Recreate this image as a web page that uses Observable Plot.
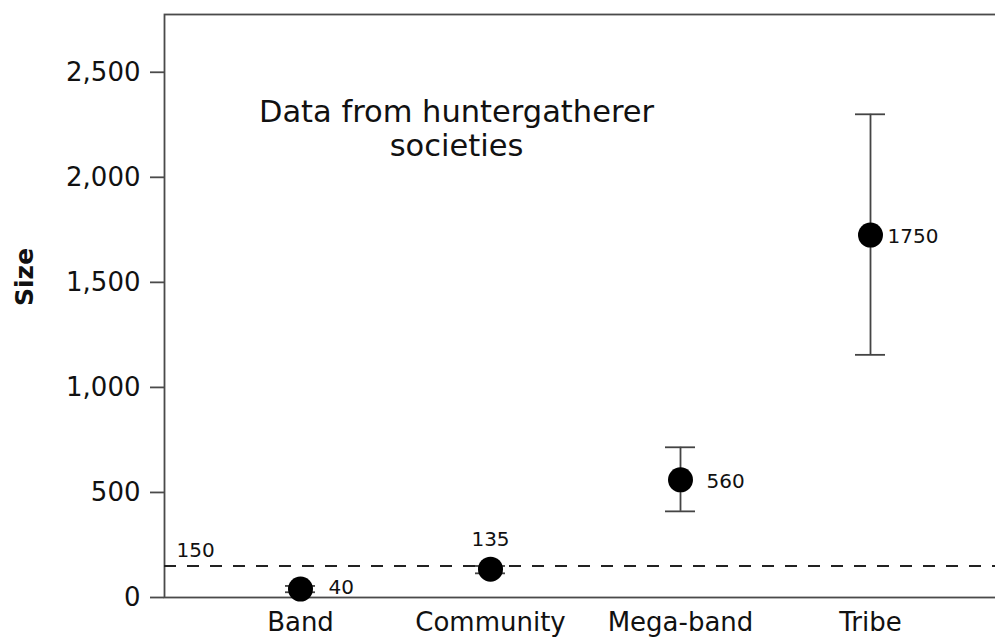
<!DOCTYPE html>
<html>
<head>
<meta charset="utf-8">
<script src="https://cdn.jsdelivr.net/npm/d3@7"></script>
<script src="https://cdn.jsdelivr.net/npm/@observablehq/plot@0.6"></script>
<style>
  html, body { margin: 0; padding: 0; background: #fff; overflow: hidden; }
  #chart svg { display: block; }
</style>
</head>
<body>
<div id="chart"></div>
<script>
// ---- data ----
const categories = ["Band", "Community", "Mega-band", "Tribe"];
const means = [40, 135, 560, 1725];
const lows = [25, 115, 410, 1155];
const highs = [55, 150, 715, 2300];
const pointLabels = ["40", "135", "560", "1750"];
const yTicks = [0, 500, 1000, 1500, 2000, 2500];
const referenceValue = 150;
const referenceLabel = "150";
const annotationText = "Data from huntergatherer\nsocieties";
const annotationCategory = "Community";
const annotationValue = 2235;
const yLabel = "Size";

// ---- layout / style (not data) ----
const labelLayout = [
  {dx: 28, dy: -2, anchor: "start"},
  {dx: 0, dy: -30, anchor: "middle"},
  {dx: 26, dy: 2, anchor: "start"},
  {dx: 17, dy: 1, anchor: "start"}
];
const ink = "#111";
const lineColor = "#444";
const font = "'DejaVu Sans', Verdana, sans-serif";

const rows = categories.map((c, i) => ({
  category: c, mean: means[i], low: lows[i], high: highs[i], label: pointLabels[i]
}));

const labelMarks = rows.map((d, i) => Plot.text([d], {
  x: "category", y: "mean", text: "label",
  dx: labelLayout[i].dx, dy: labelLayout[i].dy,
  textAnchor: labelLayout[i].anchor,
  fontSize: 20, fill: ink
}));

const chart = Plot.plot({
  width: 995,
  height: 638,
  marginTop: 14,
  marginBottom: 41,
  marginLeft: 164,
  marginRight: -12,
  style: {fontFamily: font, fontSize: "26px", color: ink, background: "#fff"},
  x: {type: "band", domain: categories, paddingInner: 0.842, paddingOuter: 0.636, label: null},
  y: {domain: [0, 2775], label: null},
  marks: [
    Plot.frame({stroke: "#4a4a4a", strokeWidth: 1.8}),
    Plot.axisY({ticks: yTicks, tickFormat: d3.format(","), tickSize: 14, tickPadding: 10,
                fontSize: 26, stroke: "#4a4a4a", strokeWidth: 1.8, fill: ink, label: null}),
    Plot.axisX({tickSize: 0, tickPadding: 15, fontSize: 26, fill: ink, label: null}),
    Plot.text([yLabel], {frameAnchor: "left", dx: -140, rotate: -90, fontWeight: "bold",
                         fontSize: 25, fill: ink}),
    Plot.ruleY([referenceValue], {stroke: "#222", strokeWidth: 2, strokeDasharray: "12,11"}),
    Plot.text([referenceLabel], {frameAnchor: "left", y: () => referenceValue, dx: 12, dy: -15,
                                 textAnchor: "start", fontSize: 20, fill: ink}),
    Plot.ruleX(rows, {x: "category", y1: "low", y2: "high", stroke: lineColor, strokeWidth: 1.8}),
    Plot.tickY(rows, {x: "category", y: "low", stroke: lineColor, strokeWidth: 1.8}),
    Plot.tickY(rows, {x: "category", y: "high", stroke: lineColor, strokeWidth: 1.8}),
    Plot.dot(rows, {x: "category", y: "mean", r: 12.5, fill: "#000", stroke: "none"}),
    ...labelMarks,
    Plot.text([annotationText], {x: () => annotationCategory, y: () => annotationValue, dx: -34,
                                 lineHeight: 1.12, fontSize: 30.5, fill: ink, textAnchor: "middle"})
  ]
});
document.getElementById("chart").appendChild(chart);
</script>
</body>
</html>
